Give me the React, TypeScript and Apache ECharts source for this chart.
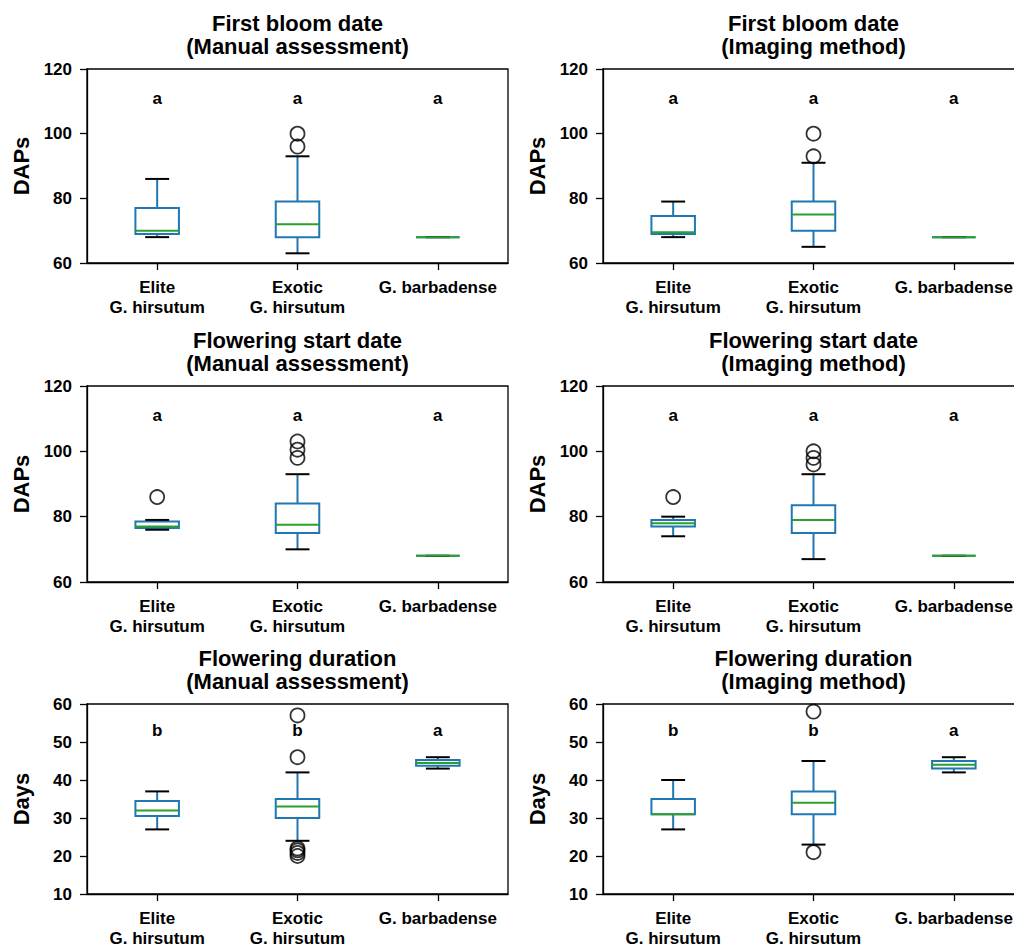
import React, { useEffect, useRef } from "react";
import * as echarts from "echarts";

const categories = ["Elite\nG. hirsutum", "Exotic\nG. hirsutum", "G. barbadense"];

// box stats per category: [lowWhisker, q1, median, q3, highWhisker]
const fbManualBox = [[68, 69, 70, 77, 86], [63, 68, 72, 79, 93], [68, 68, 68, 68, 68]];
const fbManualOut = [[1, 96], [1, 100]];
const fbImagingBox = [[68, 69, 69.5, 74.5, 79], [65, 70, 75, 79, 91], [68, 68, 68, 68, 68]];
const fbImagingOut = [[1, 93], [1, 100]];
const fsManualBox = [[76, 76.5, 77, 78.5, 79], [70, 75, 77.5, 84, 93], [68, 68, 68, 68, 68]];
const fsManualOut = [[0, 86], [1, 98], [1, 100.5], [1, 103]];
const fsImagingBox = [[74, 77, 78, 79, 80], [67, 75, 79, 83.5, 93], [68, 68, 68, 68, 68]];
const fsImagingOut = [[0, 86], [1, 96], [1, 98], [1, 100]];
const fdManualBox = [[27, 30.5, 32, 34.5, 37], [24, 30, 33, 35, 42], [43, 43.75, 44.5, 45.25, 46]];
const fdManualOut = [[1, 20], [1, 20.8], [1, 21.5], [1, 22], [1, 46], [1, 57]];
const fdImagingBox = [[27, 31, 31, 35, 40], [23, 31, 34, 37, 45], [42, 43, 44, 45, 46]];
const fdImagingOut = [[1, 21], [1, 58]];

const lettersTop = ["a", "a", "a"];
const lettersDuration = ["b", "b", "a"];
const letterYDates = 111;
const letterYDuration = 53;

const titles = [
  "First bloom date\n(Manual assessment)",
  "First bloom date\n(Imaging method)",
  "Flowering start date\n(Manual assessment)",
  "Flowering start date\n(Imaging method)",
  "Flowering duration\n(Manual assessment)",
  "Flowering duration\n(Imaging method)",
];
const yNames = ["DAPs", "DAPs", "DAPs", "DAPs", "Days", "Days"];
const yRanges = [
  [60, 120, 20],
  [60, 120, 20],
  [60, 120, 20],
  [60, 120, 20],
  [10, 60, 10],
  [10, 60, 10],
];

const panels = [
  { box: fbManualBox, out: fbManualOut, letters: lettersTop, ly: letterYDates },
  { box: fbImagingBox, out: fbImagingOut, letters: lettersTop, ly: letterYDates },
  { box: fsManualBox, out: fsManualOut, letters: lettersTop, ly: letterYDates },
  { box: fsImagingBox, out: fsImagingOut, letters: lettersTop, ly: letterYDates },
  { box: fdManualBox, out: fdManualOut, letters: lettersDuration, ly: letterYDuration },
  { box: fdImagingBox, out: fdImagingOut, letters: lettersDuration, ly: letterYDuration },
];

const FONT = "'Liberation Sans', Arial, Helvetica, sans-serif";
const gridLefts = [87, 603];
const gridTops = [69, 386, 704];
const gridHeights = [194, 196, 194];
const GRID_W = 421;

export default function App() {
  const ref = useRef<HTMLDivElement>(null);
  useEffect(() => {
    if (!ref.current) return;
    const chart = echarts.init(ref.current, null, { renderer: "svg" });

    const grids: any[] = [];
    const xAxes: any[] = [];
    const yAxes: any[] = [];
    const series: any[] = [];
    const graphics: any[] = [];

    panels.forEach((p, i) => {
      const col = i % 2;
      const row = Math.floor(i / 2);
      grids.push({
        left: gridLefts[col],
        top: gridTops[row],
        width: GRID_W,
        height: gridHeights[row],
        show: true,
        borderColor: "#000",
        borderWidth: 1.3,
        containLabel: false,
      });
      xAxes.push({
        type: "category",
        gridIndex: i,
        data: categories,
        boundaryGap: true,
        axisLine: { show: true, lineStyle: { color: "#000", width: 1.3 } },
        axisTick: { show: true, alignWithLabel: true, length: 7, lineStyle: { color: "#000", width: 1.3 } },
        axisLabel: {
          interval: 0,
          margin: 14,
          color: "#000",
          fontFamily: FONT,
          fontWeight: "bold",
          fontSize: 17,
          lineHeight: 20,
        },
        splitLine: { show: false },
      });
      const [mn, mx, iv] = yRanges[i];
      yAxes.push({
        type: "value",
        gridIndex: i,
        min: mn,
        max: mx,
        interval: iv,
        name: yNames[i],
        nameLocation: "middle",
        nameGap: 55,
        nameTextStyle: { color: "#000", fontFamily: FONT, fontWeight: "bold", fontSize: 22 },
        axisLine: { show: true, lineStyle: { color: "#000", width: 1.3 } },
        axisTick: { show: true, length: 7, lineStyle: { color: "#000", width: 1.3 } },
        axisLabel: { margin: 15, color: "#000", fontFamily: FONT, fontWeight: "bold", fontSize: 17 },
        splitLine: { show: false },
      });

      series.push({
        type: "custom",
        xAxisIndex: i,
        yAxisIndex: i,
        encode: { x: 0, y: [1, 2, 3, 4, 5] },
        data: p.box.map((b, k) => [k, ...b]),
        renderItem: (params: any, api: any) => {
          const x = api.value(0);
          const low = api.coord([x, api.value(1)]);
          const q1 = api.coord([x, api.value(2)]);
          const med = api.coord([x, api.value(3)]);
          const q3 = api.coord([x, api.value(4)]);
          const high = api.coord([x, api.value(5)]);
          const bw = api.size([1, 0])[0] * 0.31;
          const cw = bw * 0.55;
          const cx = q1[0];
          const blue = { stroke: "#1f77b4", lineWidth: 2, fill: "none" };
          const black = { stroke: "#000", lineWidth: 2 };
          return {
            type: "group",
            children: [
              { type: "line", shape: { x1: cx, y1: q3[1], x2: cx, y2: high[1] }, style: blue },
              { type: "line", shape: { x1: cx, y1: q1[1], x2: cx, y2: low[1] }, style: blue },
              {
                type: "rect",
                shape: { x: cx - bw / 2, y: q3[1], width: bw, height: q1[1] - q3[1] },
                style: blue,
              },
              { type: "line", shape: { x1: cx - cw / 2, y1: high[1], x2: cx + cw / 2, y2: high[1] }, style: black },
              { type: "line", shape: { x1: cx - cw / 2, y1: low[1], x2: cx + cw / 2, y2: low[1] }, style: black },
              {
                type: "line",
                shape: { x1: cx - bw / 2, y1: med[1], x2: cx + bw / 2, y2: med[1] },
                style: { stroke: "#2ca02c", lineWidth: 2 },
              },
            ],
          };
        },
        z: 3,
      });

      series.push({
        type: "scatter",
        xAxisIndex: i,
        yAxisIndex: i,
        data: p.out,
        symbol: "circle",
        symbolSize: 14,
        itemStyle: { color: "rgba(0,0,0,0)", borderColor: "#000", borderWidth: 1.8 },
        z: 4,
      });

      series.push({
        type: "custom",
        xAxisIndex: i,
        yAxisIndex: i,
        encode: { x: 0, y: 1 },
        data: p.letters.map((l, k) => [k, p.ly, l]),
        renderItem: (params: any, api: any) => {
          const pt = api.coord([api.value(0), api.value(1)]);
          return {
            type: "text",
            x: pt[0],
            y: pt[1],
            style: {
              text: String(p.letters[params.dataIndex]),
              fill: "#000",
              font: `bold 17px ${FONT}`,
              align: "center",
              verticalAlign: "middle",
            },
          };
        },
        z: 5,
      });

      graphics.push({
        type: "text",
        x: gridLefts[col] + GRID_W / 2,
        y: gridTops[row] - 57,
        style: {
          text: titles[i],
          fill: "#000",
          font: `bold 22px ${FONT}`,
          align: "center",
          verticalAlign: "top",
          lineHeight: 23,
        },
      });
    });

    chart.setOption({
      animation: false,
      backgroundColor: "#fff",
      grid: grids,
      xAxis: xAxes,
      yAxis: yAxes,
      series,
      graphic: graphics,
    });
    return () => chart.dispose();
  }, []);

  return (
    <div
      style={{
        position: "fixed",
        left: 0,
        top: 0,
        width: 1014,
        height: 948,
        overflow: "hidden",
        background: "#fff",
      }}
    >
      <div ref={ref} style={{ width: 1040, height: 948 }} />
    </div>
  );
}
